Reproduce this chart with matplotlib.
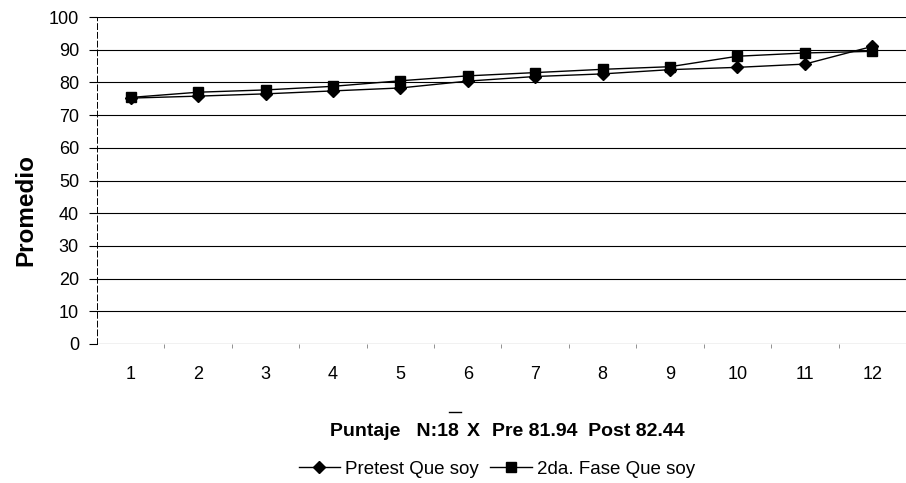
import matplotlib
matplotlib.use("Agg")
import matplotlib.pyplot as plt
from matplotlib.lines import Line2D

plt.rcParams['font.family'] = ['Liberation Sans', 'DejaVu Sans']

# datos
categorias = [1, 2, 3, 4, 5, 6, 7, 8, 9, 10, 11, 12]
pretest = [75.2, 75.8, 76.5, 77.4, 78.3, 80.4, 81.8, 82.6, 83.9, 84.6, 85.6, 91.0]
segunda_fase = [75.4, 77.0, 77.7, 78.8, 80.5, 82.0, 83.0, 84.0, 84.8, 88.0, 89.0, 89.5]
etiquetas_y = [0, 10, 20, 30, 40, 50, 60, 70, 80, 90, 100]

W, H = 906, 483
fig = plt.figure(figsize=(W / 100, H / 100), dpi=100)
ax = fig.add_axes([97 / W, 1 - 344 / H, 1 - 97 / W, (344 - 17) / H])

ax.plot(categorias, pretest, color='black', lw=1, marker='D', markersize=6, label='Pretest Que soy')
ax.plot(categorias, segunda_fase, color='black', lw=1, marker='s', markersize=6.5, label='2da. Fase Que soy')

ax.set_xlim(0.5, 12.5)
ax.set_ylim(0, 100)
ax.set_yticks(etiquetas_y)
ax.set_xticks(categorias)
ax.set_xticks([c + 0.5 for c in categorias[:-1]], minor=True)
ax.tick_params(axis='x', which='major', length=0, pad=16, labelsize=13)
ax.tick_params(axis='x', which='minor', length=3, width=0.5, direction='out', color='0.4')
ax.tick_params(axis='y', length=6, width=0.8, labelsize=13, pad=7)
ax.yaxis.grid(True, color='black', lw=0.8)
ax.set_axisbelow(True)
for s in ['top', 'right', 'bottom']:
    ax.spines[s].set_visible(False)
ax.spines['left'].set_linestyle((0, (6, 3)))
ax.spines['left'].set_linewidth(0.7)

ax.set_ylabel('Promedio', fontsize=17.5, fontweight='bold')
ax.yaxis.set_label_coords(-0.074, 0.41)

# titulo del eje x con X testada
ty = 1 - 432 / H
fig.text(459 / W, ty, 'Puntaje   N:18', ha='right', va='center', fontsize=14, fontweight='bold')
fig.text(473 / W, ty, 'X', ha='center', va='center', fontsize=14, fontweight='bold')
fig.text(492 / W, ty, 'Pre 81.94  Post 82.44', ha='left', va='center', fontsize=14, fontweight='bold')
fig.add_artist(Line2D([449 / W, 461 / W], [1 - 412 / H, 1 - 412 / H],
                      color='black', lw=1, transform=fig.transFigure))

fig.legend(loc='center', bbox_to_anchor=(497 / W, 1 - 469 / H), ncol=2, frameon=False,
           fontsize=13.5, handlelength=2.2, handletextpad=0.3, columnspacing=0.6)

fig.savefig('out.png', dpi=100)
